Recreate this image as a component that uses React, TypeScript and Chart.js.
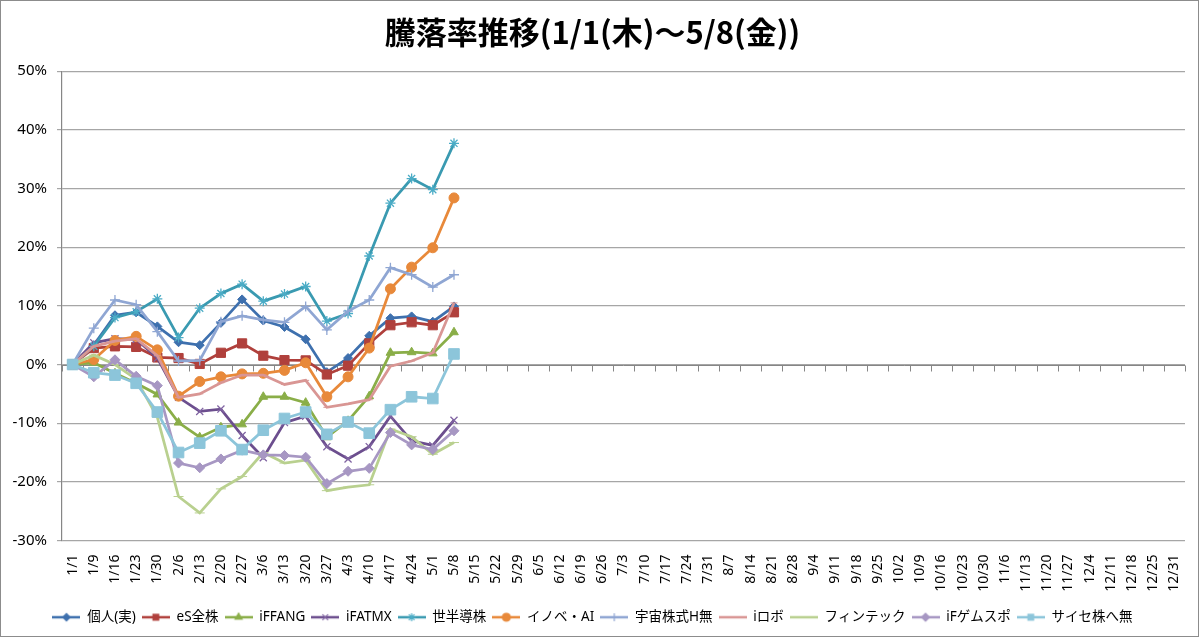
import { useEffect, useRef } from 'react'
import Chart from 'chart.js/auto'
import { drawPoint } from 'chart.js/helpers'

const dates = [
  '1/1', '1/9', '1/16', '1/23', '1/30', '2/6', '2/13', '2/20', '2/27', '3/6', '3/13', '3/20', '3/27',
  '4/3', '4/10', '4/17', '4/24', '5/1', '5/8', '5/15', '5/22', '5/29', '6/5', '6/12', '6/19', '6/26',
  '7/3', '7/10', '7/17', '7/24', '7/31', '8/7', '8/14', '8/21', '8/28', '9/4', '9/11', '9/18', '9/25',
  '10/2', '10/9', '10/16', '10/23', '10/30', '11/6', '11/13', '11/20', '11/27', '12/4', '12/11',
  '12/18', '12/25', '12/31',
]

const yTicks = [50, 40, 30, 20, 10, 0, -10, -20, -30]

const seriesNames = [
  '個人(実)', 'eS全株', 'iFFANG', 'iFATMX', '世半導株', 'イノベ・AI',
  '宇宙株式H無', 'iロボ', 'フィンテック', 'iFゲムスポ', 'サイセ株へ無',
]

// 騰落率 (%)
const kojin = [0, 3.3, 8.4, 8.9, 6.5, 3.8, 3.3, 7.1, 11.1, 7.5, 6.4, 4.3, -1.3, 1.1, 4.9, 7.9, 8.2, 7.3, 9.9]
const esZenkabu = [0, 2.8, 3.1, 3.0, 1.2, 1.1, 0.1, 2.0, 3.6, 1.5, 0.75, 0.7, -1.7, -0.2, 3.6, 6.7, 7.2, 6.7, 8.9]
const ifFang = [0, 0.3, -1.5, -3.2, -5.1, -9.9, -12.4, -10.7, -10.2, -5.5, -5.5, -6.5, -12.4, -9.6, -5.4, 2.0, 2.1, 1.9, 5.5]
const ifAtmx = [0, 3.7, 4.4, 4.3, 1.1, -5.6, -8.0, -7.6, -12.1, -15.9, -9.9, -8.8, -14.0, -16.1, -14.0, -8.8, -13.0, -13.8, -9.5]
const hantai = [0, 3.1, 8.0, 9.0, 11.2, 4.6, 9.6, 12.1, 13.7, 10.8, 12.0, 13.3, 7.4, 8.7, 18.5, 27.5, 31.7, 29.8, 37.7]
const inoveAi = [0, 0.85, 4.1, 4.8, 2.5, -5.4, -2.9, -2.1, -1.6, -1.5, -1.0, 0.3, -5.5, -2.1, 2.8, 12.9, 16.6, 19.9, 28.4]
const uchu = [0, 6.2, 11.0, 10.2, 5.6, 0.6, 0.7, 7.3, 8.3, 7.6, 7.2, 9.9, 5.9, 9.1, 11.0, 16.5, 15.3, 13.2, 15.3]
const iRobo = [0, 3.1, 4.0, 4.4, 1.5, -5.6, -5.0, -3.1, -1.8, -1.8, -3.4, -2.7, -7.3, -6.7, -6.0, -0.3, 0.6, 2.0, 10.5]
const fintech = [0, 1.6, 0, -2.5, -9.0, -22.5, -25.3, -21.2, -19.1, -15.0, -16.8, -16.3, -21.5, -20.9, -20.5, -11.0, -12.3, -15.3, -13.3]
const gameSports = [0, -2.1, 0.8, -2.0, -3.6, -16.8, -17.6, -16.1, -14.6, -15.4, -15.5, -15.8, -20.3, -18.2, -17.7, -11.6, -13.7, -14.5, -11.3]
const cyber = [0, -1.4, -1.8, -3.2, -8.1, -15.0, -13.4, -11.3, -14.5, -11.2, -9.2, -8.1, -11.9, -9.8, -11.7, -7.7, -5.5, -5.8, 1.8]

const seriesValues = [kojin, esZenkabu, ifFang, ifAtmx, hantai, inoveAi, uchu, iRobo, fintech, gameSports, cyber]

const lineColors = ['#3E70AE', '#B0403C', '#8AAE48', '#6C4E8E', '#3A9AB1', '#E8893A', '#8FA6D3', '#D99694', '#B9D08F', '#A797C3', '#8CC5DA']
const markerColors = ['#3E70AE', '#B0403C', '#8AAE48', '#8064A2', '#4BACC6', '#E8893A', '#8FA6D3', '#D99694', '#B9D08F', '#A797C3', '#8CC5DA']
const markerStyles = ['rectRot', 'rect', 'triangle', 'crossRot', 'star', 'circle', 'cross', 'line', 'line', 'rectRot', 'rect']
const markerSizes = [4.5, 6.5, 5, 5, 5, 5, 5, 3.5, 5, 5, 7.5]

const FONT = '"Noto Sans", "Noto Sans CJK JP", sans-serif'

export default function App() {
  const chartRef = useRef<HTMLCanvasElement>(null)

  useEffect(() => {
    if (!chartRef.current) return
    const existing = Chart.getChart(chartRef.current)
    if (existing) existing.destroy()

    // legend icons: line with the marker in the middle, like Excel
    const icons = seriesNames.map((_, i) => {
      const c = document.createElement('canvas')
      c.width = 28
      c.height = 14
      const g = c.getContext('2d')!
      g.strokeStyle = lineColors[i]
      g.lineWidth = 2.5
      g.beginPath()
      g.moveTo(0, 7)
      g.lineTo(28, 7)
      g.stroke()
      g.fillStyle = markerColors[i]
      g.strokeStyle = markerColors[i]
      g.lineWidth = 1.2
      drawPoint(g, { pointStyle: markerStyles[i], radius: Math.min(markerSizes[i], 5) * 0.8, borderWidth: 1.2, rotation: 0 } as any, 14, 7)
      return c
    })

    const datasets = seriesNames.map((name, i) => ({
      label: name,
      data: seriesValues[i],
      borderColor: lineColors[i],
      backgroundColor: markerColors[i],
      borderWidth: 2.75,
      pointStyle: markerStyles[i],
      pointRadius: markerSizes[i],
      pointBorderWidth: markerStyles[i].startsWith('cross') || markerStyles[i] === 'star' ? 1.3 : 1,
      pointBorderColor: markerColors[i],
      pointBackgroundColor: markerColors[i],
      tension: 0,
      order: -i,
    }))

    const frame = {
      id: 'frame',
      beforeDraw(chart: any) {
        const { ctx, width, height } = chart
        ctx.save()
        ctx.fillStyle = '#fff'
        ctx.fillRect(0, 0, width, height)
        ctx.strokeStyle = '#8c8c8c'
        ctx.lineWidth = 1
        ctx.strokeRect(0.5, 0.5, width - 2, height - 2)
        ctx.restore()
      },
      beforeDatasetsDraw(chart: any) {
        // horizontal axis crossing at 0% with tick marks between categories
        const { ctx, chartArea, scales } = chart
        const x = scales.x
        const y0 = Math.round(scales.y.getPixelForValue(0)) + 0.5
        const step = x.getPixelForValue(1) - x.getPixelForValue(0)
        ctx.save()
        ctx.strokeStyle = '#868686'
        ctx.lineWidth = 1
        ctx.beginPath()
        ctx.moveTo(chartArea.left, y0)
        ctx.lineTo(chartArea.right, y0)
        for (let i = 0; i <= dates.length; i++) {
          const px = Math.round(x.getPixelForValue(i) - step / 2) + 0.5
          ctx.moveTo(px, y0)
          ctx.lineTo(px, y0 + 6)
        }
        ctx.stroke()
        ctx.restore()
      },
    }

    const chart = new Chart(chartRef.current, {
      type: 'line',
      data: { labels: dates, datasets },
      plugins: [frame],
      options: {
        animation: false,
        responsive: false,
        devicePixelRatio: 1,
        layout: { padding: { left: 0, right: 15, top: 0, bottom: 4 } },
        plugins: {
          tooltip: { enabled: false },
          title: {
            display: true,
            text: '騰落率推移(1/1(木)～5/8(金))',
            color: '#000',
            font: { family: '"Noto Sans CJK JP", sans-serif', size: 31, weight: 'bold' },
            padding: { top: 14, bottom: 20 },
          },
          legend: {
            position: 'bottom',
            labels: {
              usePointStyle: true,
              pointStyleWidth: 28,
              color: '#000',
              font: { family: FONT, size: 13.5 },
              padding: 6,
              sort: (a: any, b: any) => a.datasetIndex - b.datasetIndex,
              generateLabels: (c: any) =>
                Chart.defaults.plugins.legend.labels.generateLabels(c).map((l: any) => ({
                  ...l,
                  pointStyle: icons[l.datasetIndex],
                })),
            },
          },
        },
        scales: {
          x: {
            offset: true,
            grid: { display: false },
            border: { display: false },
            ticks: {
              autoSkip: false,
              minRotation: 90,
              maxRotation: 90,
              color: '#000',
              font: { family: FONT, size: 14 },
              padding: 6,
            },
            afterFit: (s: any) => { s.height = 64 },
          },
          y: {
            min: -30,
            max: 50,
            afterBuildTicks: (s: any) => { s.ticks = yTicks.map(v => ({ value: v })) },
            grid: { color: '#a6a6a6', lineWidth: 1.2, tickLength: 5 },
            border: { display: true, color: '#868686', width: 1.2 },
            ticks: {
              color: '#000',
              font: { family: FONT, size: 15 },
              padding: 10,
              callback: (v: any) => `${v}%`,
            },
            afterFit: (s: any) => { s.width = 62 },
          },
        },
      },
    } as any)

    return () => { chart.destroy() }
  }, [])

  return (
    <div style={{ position: 'fixed', left: 0, top: 0, width: 1200, height: 638, background: '#fff' }}>
      <canvas ref={chartRef} width={1200} height={638} />
    </div>
  )
}
